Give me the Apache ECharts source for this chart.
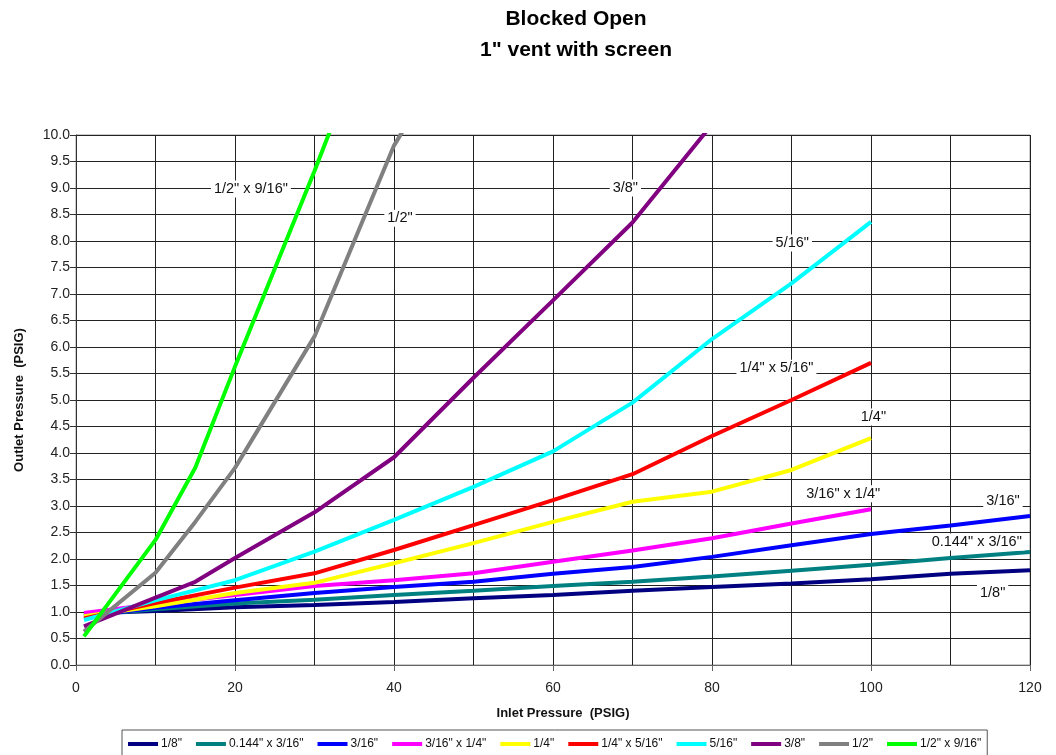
<!DOCTYPE html>
<html>
<head>
<meta charset="utf-8">
<script src="https://cdn.jsdelivr.net/npm/echarts@6/dist/echarts.min.js"></script>
<style>html,body{margin:0;padding:0;background:#fff}#c{width:1056px;height:755px}</style>
</head>
<body>
<div id="c"></div>
<script>
// ---- data ----
const seriesNames = ['1/8"', '0.144" x 3/16"', '3/16"', '3/16" x 1/4"', '1/4"', '1/4" x 5/16"', '5/16"', '3/8"', '1/2"', '1/2" x 9/16"'];
const s_1_8 = [[1,0.97],[10,1.02],[20,1.09],[30,1.13],[40,1.19],[50,1.26],[60,1.32],[70,1.40],[80,1.47],[90,1.54],[100,1.62],[110,1.72],[120,1.79]];
const s_144_3_16 = [[1,0.94],[10,1.05],[20,1.16],[30,1.23],[40,1.32],[50,1.40],[60,1.49],[70,1.57],[80,1.67],[90,1.78],[100,1.89],[110,2.02],[120,2.13]];
const s_3_16 = [[1,0.92],[10,1.08],[20,1.22],[30,1.36],[40,1.47],[50,1.57],[60,1.72],[70,1.85],[80,2.04],[90,2.26],[100,2.47],[110,2.63],[120,2.81]];
const s_3_16_1_4 = [[1,0.98],[10,1.15],[20,1.32],[30,1.49],[40,1.60],[50,1.73],[60,1.95],[70,2.16],[80,2.39],[90,2.67],[100,2.94]];
const s_1_4 = [[1,0.92],[10,1.11],[20,1.36],[30,1.55],[40,1.92],[50,2.30],[60,2.70],[70,3.08],[80,3.27],[90,3.68],[100,4.28]];
const s_1_4_5_16 = [[1,0.88],[10,1.17],[20,1.46],[30,1.73],[40,2.17],[50,2.64],[60,3.11],[70,3.60],[80,4.32],[90,5.00],[100,5.70]];
const s_5_16 = [[1,0.85],[10,1.22],[20,1.60],[30,2.14],[40,2.74],[50,3.36],[60,4.03],[70,4.95],[80,6.15],[90,7.20],[100,8.36]];
const s_3_8 = [[1,0.73],[10,1.27],[15,1.57],[20,2.02],[30,2.88],[40,3.92],[50,5.42],[60,6.88],[70,8.35],[80,10.2]];
const s_1_2 = [[1,0.63],[10,1.74],[15,2.70],[20,3.72],[30,6.20],[40,9.80],[50,12.3]];
const s_1_2_9_16 = [[1,0.54],[10,2.36],[15,3.72],[20,5.63],[30,9.32],[40,13.2]];
const seriesData = [s_1_8, s_144_3_16, s_3_16, s_3_16_1_4, s_1_4, s_1_4_5_16, s_5_16, s_3_8, s_1_2, s_1_2_9_16];
// in-plot label anchors (data units)
const labelAnchors = [[115.3,1.36],[113.3,2.32],[116.6,3.09],[96.5,3.23],[100.3,4.68],[88.1,5.6],[90.1,7.96],[69.1,9.0],[40.75,8.43],[22.0,8.98]];
const yTicks = {min:0, max:10, interval:0.5};
const xTicks = {min:0, max:120, interval:20};

const colors = ['#000080','#008080','#0000FF','#FF00FF','#FFFF00','#FF0000','#00FFFF','#800080','#808080','#00FF00'];
const FONT = 'Liberation Sans, Arial, sans-serif';

const chart = echarts.init(document.getElementById('c'));
const series = seriesNames.map((n,i)=>({
  name:n, type:'line', data:seriesData[i], showSymbol:false, symbol:'none',
  lineStyle:{width:4, color:colors[i]}, itemStyle:{color:colors[i]},
  clip:true, animation:false, z:2+i,
  markPoint:{
    symbol:'rect', symbolSize:1, itemStyle:{color:'rgba(0,0,0,0)'},
    silent:true, animation:false,
    label:{show:true, position:'inside', formatter:n, color:'#111', fontFamily:FONT, fontSize:14.5,
      backgroundColor:'#fff', padding:[1,3]},
    data:[{coord:labelAnchors[i]}]
  }
}));

chart.setOption({
  animation:false,
  backgroundColor:'#fff',
  color:colors,
  title:{
    text:'Blocked Open\n1" vent with screen',
    left:571, top:-1, textAlign:'center',
    textStyle:{fontFamily:FONT, fontWeight:'bold', fontSize:21, lineHeight:31, color:'#000'}
  },
  grid:{left:76, right:26, top:135, bottom:90, show:true, borderColor:'#999', borderWidth:1},
  xAxis:{
    type:'value', min:xTicks.min, max:xTicks.max, interval:xTicks.interval,
    name:'Inlet Pressure  (PSIG)', nameLocation:'middle', nameGap:42,
    nameTextStyle:{fontFamily:FONT, fontWeight:'bold', fontSize:13, color:'#111', padding:[0,0,0,20]},
    axisLine:{show:true, lineStyle:{color:'#666', width:1}},
    axisTick:{show:true, length:6, lineStyle:{color:'#666'}},
    axisLabel:{fontFamily:FONT, fontSize:14, color:'#222', margin:16},
    splitLine:{show:true, lineStyle:{color:'#222', width:1}},
    minorTick:{show:false, splitNumber:2},
    minorSplitLine:{show:true, lineStyle:{color:'#222', width:1}}
  },
  yAxis:{
    type:'value', min:yTicks.min, max:yTicks.max, interval:yTicks.interval,
    name:'Outlet Pressure  (PSIG)', nameLocation:'middle', nameGap:50,
    nameTextStyle:{fontFamily:FONT, fontWeight:'bold', fontSize:13, color:'#111'},
    axisLine:{show:true, lineStyle:{color:'#333', width:1}},
    axisTick:{show:true, length:6, lineStyle:{color:'#333'}},
    axisLabel:{fontFamily:FONT, fontSize:14, color:'#222', margin:6, formatter:v=>v.toFixed(1)},
    splitLine:{show:true, lineStyle:{color:'#222', width:1}}
  },
  legend:{
    data:seriesNames, left:122, top:730, width:866,
    orient:'horizontal', itemWidth:30, itemHeight:4, itemGap:14,
    borderColor:'#555', borderWidth:1, padding:[8,6,12,6],
    icon:'rect',
    textStyle:{fontFamily:FONT, fontSize:12, color:'#111', padding:[0,0,0,-2]}
  },
  series:series
});
</script>
</body>
</html>
